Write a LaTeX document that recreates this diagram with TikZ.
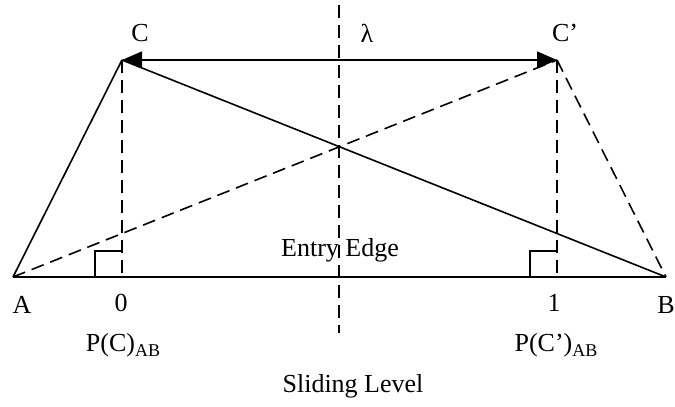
\documentclass[tikz,border=0pt]{standalone}
\usepackage{fontspec}
\setmainfont{Liberation Serif}
\usetikzlibrary{arrows.meta}
\begin{document}
\begin{tikzpicture}[x=1pt,y=-1pt,
  every node/.style={font=\fontsize{26}{28}\selectfont, inner sep=0pt},
  edge/.style={line width=1.6pt},
  dashedge/.style={line width=1.6pt, dash pattern=on 13pt off 7pt},
  rightang/.style={line width=1.3pt}]
\useasboundingbox (0,0) rectangle (675,407);
% points
\coordinate (A) at (13,277);
\coordinate (B) at (666,277);
\coordinate (C) at (122,60);
\coordinate (Cp) at (557,60);
\coordinate (P0) at (122,277);
\coordinate (P1) at (557,277);
\coordinate (Mtop) at (339,5);
\coordinate (Mbot) at (339,333);
\coordinate (S0a) at (95,277);
\coordinate (S0b) at (122,251);
\coordinate (S1a) at (530,277);
\coordinate (S1b) at (557,251);
% lines
\draw[edge] (A) -- (B);
\draw[edge] (A) -- (C);
\draw[edge] (C) -- (B);
\draw[dashedge] (A) -- (Cp);
\draw[dashedge] (Cp) -- (B);
\draw[dashedge] (C) -- (P0);
\draw[dashedge] (Cp) -- (P1);
\draw[dashedge] (Mtop) -- (Mbot);
\draw[rightang] (S0a) |- (S0b);
\draw[rightang] (S1a) |- (S1b);
\draw[edge, {Triangle[length=20pt,width=17pt]}-{Triangle[length=20pt,width=17pt]}] (C) -- (Cp);
% labels
\node (lC) at (140,33) {C};
\node (lCp) at (565,33) {C’};
\node (llam) at (367,33) {λ};
\node (lEntry) at (340,250) {Entry Edge};
\node (lA) at (22,305) {A};
\node (l0) at (121,303) {0};
\node (l1) at (554,303) {1};
\node (lB) at (666,305) {B};
\node (lPC) at (123,345) {P(C)\raisebox{-5pt}{\fontsize{18}{18}\selectfont AB}};
\node (lPCp) at (556,345) {P(C’)\raisebox{-5pt}{\fontsize{18}{18}\selectfont AB}};
\node (lSlide) at (353,386) {Sliding Level};
\end{tikzpicture}
\end{document}
